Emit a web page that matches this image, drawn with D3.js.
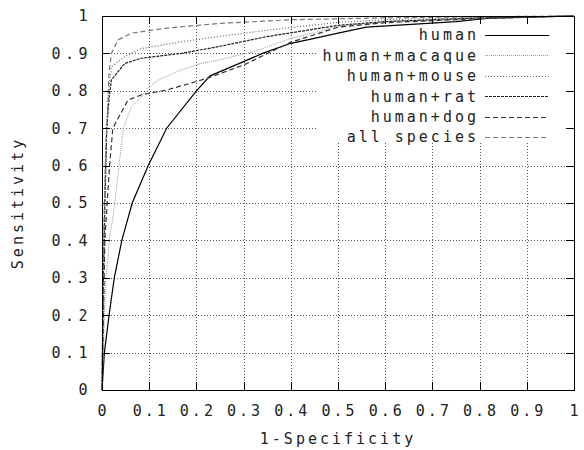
<!DOCTYPE html>
<html>
<head>
<meta charset="utf-8">
<script src="https://cdn.jsdelivr.net/npm/d3@7"></script>
<style>
  body { margin: 0; background: #fff; }
  text { font-family: "DejaVu Sans Mono", monospace; font-size: 15px; letter-spacing: 3px; fill: #222; }
</style>
</head>
<body>
<div id="roc"></div>
<script>
// tick values
let xTicks = [0, 0.1, 0.2, 0.3, 0.4, 0.5, 0.6, 0.7, 0.8, 0.9, 1];
let yTicks = [0, 0.1, 0.2, 0.3, 0.4, 0.5, 0.6, 0.7, 0.8, 0.9, 1];

// series names (legend order)
let seriesNames = ["human", "human+macaque", "human+mouse", "human+rat", "human+dog", "all species"];

// ROC points [1-specificity, sensitivity]
let human = [[0, 0], [0.005, 0.1], [0.015, 0.2], [0.026, 0.3], [0.042, 0.4], [0.064, 0.5], [0.098, 0.6],
  [0.137, 0.7], [0.2, 0.8], [0.229, 0.84], [0.3, 0.878], [0.34, 0.9], [0.4, 0.927], [0.45, 0.94],
  [0.5, 0.954], [0.56, 0.97], [0.75, 0.985], [0.82, 0.994], [0.9, 0.997], [1, 1]];
let macaque = [[0, 0], [0.003, 0.1], [0.005, 0.2], [0.008, 0.3], [0.013, 0.35], [0.015, 0.4], [0.022, 0.45],
  [0.027, 0.5], [0.036, 0.6], [0.045, 0.7], [0.062, 0.757], [0.083, 0.784], [0.1, 0.81], [0.119, 0.829],
  [0.168, 0.856], [0.21, 0.873], [0.246, 0.882], [0.32, 0.904], [0.4, 0.94], [0.5, 0.972], [0.6, 0.985],
  [0.8, 0.993], [1, 1]];
let mouse = [[0, 0], [0.003, 0.3], [0.006, 0.5], [0.01, 0.7], [0.014, 0.8], [0.02, 0.864], [0.048, 0.891],
  [0.083, 0.913], [0.168, 0.931], [0.246, 0.945], [0.35, 0.962], [0.5, 0.983], [0.6, 0.99], [0.8, 0.996], [1, 1]];
let rat = [[0, 0], [0.003, 0.3], [0.006, 0.5], [0.01, 0.7], [0.015, 0.78], [0.02, 0.829], [0.048, 0.873],
  [0.083, 0.887], [0.168, 0.9], [0.246, 0.918], [0.35, 0.945], [0.5, 0.975], [0.6, 0.985], [0.8, 0.995], [1, 1]];
let dog = [[0, 0], [0.003, 0.2], [0.006, 0.4], [0.011, 0.5], [0.016, 0.6], [0.023, 0.7], [0.034, 0.726],
  [0.055, 0.775], [0.083, 0.789], [0.137, 0.802], [0.222, 0.833], [0.3, 0.869], [0.4, 0.93], [0.5, 0.97],
  [0.6, 0.982], [0.8, 0.993], [1, 1]];
let allSpecies = [[0, 0], [0.002, 0.3], [0.005, 0.5], [0.008, 0.65], [0.012, 0.75], [0.015, 0.85], [0.02, 0.9],
  [0.034, 0.936], [0.062, 0.954], [0.133, 0.967], [0.246, 0.98], [0.4, 0.99], [0.6, 0.995], [0.8, 0.998], [1, 1]];

let seriesData = [human, macaque, mouse, rat, dog, allSpecies];
let lineStyles = [
  { color: "#000", dash: null, width: 1.2 },
  { color: "#999", dash: "1,1", width: 1 },
  { color: "#666", dash: "1,2", width: 1.2 },
  { color: "#222", dash: "3,1", width: 1.2 },
  { color: "#333", dash: "5,3", width: 1.2 },
  { color: "#777", dash: "5,3", width: 1.2 }
];

// frame
let svg = d3.select("#roc").append("svg").attr("width", 584).attr("height", 450);
let margin = { top: 16, right: 10, bottom: 60, left: 102 },
  width = 584 - margin.left - margin.right,
  height = 450 - margin.top - margin.bottom;

let xScale = d3.scaleLinear().domain([0, 1]).range([margin.left, margin.left + width]),
  yScale = d3.scaleLinear().domain([0, 1]).range([margin.top + height, margin.top]);

// grid
let grid = svg.append("g").attr("stroke", "#555").attr("stroke-dasharray", "1,2").attr("stroke-width", 1);
grid.selectAll("line.gx")
  .data(xTicks.slice(1, -1))
  .enter()
  .append("line")
  .attr("x1", d => Math.round(xScale(d)) + 0.5)
  .attr("x2", d => Math.round(xScale(d)) + 0.5)
  .attr("y1", yScale(0))
  .attr("y2", yScale(1));
grid.selectAll("line.gy")
  .data(yTicks.slice(1, -1))
  .enter()
  .append("line")
  .attr("x1", xScale(0))
  .attr("x2", xScale(1))
  .attr("y1", d => Math.round(yScale(d)) + 0.5)
  .attr("y2", d => Math.round(yScale(d)) + 0.5);

// key area hides the grid only
svg.append("rect")
  .attr("x", 316)
  .attr("y", 26)
  .attr("width", xScale(1) - 316)
  .attr("height", 117)
  .attr("fill", "#fff");

// curves
let line = d3.line()
  .x(d => xScale(d[0]))
  .y(d => yScale(d[1]));

svg.append("g")
  .selectAll("path")
  .data(seriesData)
  .enter()
  .append("path")
  .attr("d", d => line(d))
  .attr("fill", "none")
  .attr("stroke", (d, i) => lineStyles[i].color)
  .attr("stroke-width", (d, i) => lineStyles[i].width)
  .attr("stroke-dasharray", (d, i) => lineStyles[i].dash);

// key
let key = svg.append("g");
seriesNames.forEach(function (name, i) {
  let cy = 35 + i * 20.4;
  key.append("text")
    .attr("x", 479)
    .attr("y", cy)
    .attr("dy", "0.36em")
    .attr("text-anchor", "end")
    .text(name);
  key.append("line")
    .attr("x1", 485)
    .attr("x2", 549)
    .attr("y1", Math.round(cy) + 0.5)
    .attr("y2", Math.round(cy) + 0.5)
    .attr("stroke", lineStyles[i].color)
    .attr("stroke-width", lineStyles[i].width)
    .attr("stroke-dasharray", lineStyles[i].dash);
});

// border and mirrored tick marks
let axes = svg.append("g").attr("stroke", "#000").attr("stroke-width", 1);
axes.append("rect")
  .attr("x", xScale(0) + 0.5)
  .attr("y", yScale(1) + 0.5)
  .attr("width", width)
  .attr("height", height)
  .attr("fill", "none");

let tickLen = 8;
xTicks.forEach(function (t) {
  let x = Math.round(xScale(t)) + 0.5;
  axes.append("line").attr("x1", x).attr("x2", x).attr("y1", yScale(0)).attr("y2", yScale(0) - tickLen);
  axes.append("line").attr("x1", x).attr("x2", x).attr("y1", yScale(1)).attr("y2", yScale(1) + tickLen);
});
yTicks.forEach(function (t) {
  let y = Math.round(yScale(t)) + 0.5;
  axes.append("line").attr("x1", xScale(0)).attr("x2", xScale(0) + tickLen).attr("y1", y).attr("y2", y);
  axes.append("line").attr("x1", xScale(1)).attr("x2", xScale(1) - tickLen).attr("y1", y).attr("y2", y);
});

// tick labels
svg.append("g")
  .selectAll("text")
  .data(xTicks)
  .enter()
  .append("text")
  .attr("x", d => xScale(d) + 1.5)
  .attr("y", 411)
  .attr("dy", "0.36em")
  .attr("text-anchor", "middle")
  .text(d => d3.format("")(d));

svg.append("g")
  .selectAll("text")
  .data(yTicks)
  .enter()
  .append("text")
  .attr("x", 92)
  .attr("y", d => yScale(d))
  .attr("dy", "0.36em")
  .attr("text-anchor", "end")
  .style("letter-spacing", "4.5px")
  .text(d => d3.format("")(d));

// axis titles
svg.append("text")
  .attr("x", 338)
  .attr("y", 439)
  .attr("dy", "0.36em")
  .attr("text-anchor", "middle")
  .text("1-Specificity");

svg.append("text")
  .attr("transform", "translate(18," + 203 + ") rotate(-90)")
  .attr("dy", "0.36em")
  .attr("text-anchor", "middle")
  .text("Sensitivity");
</script>
</body>
</html>
